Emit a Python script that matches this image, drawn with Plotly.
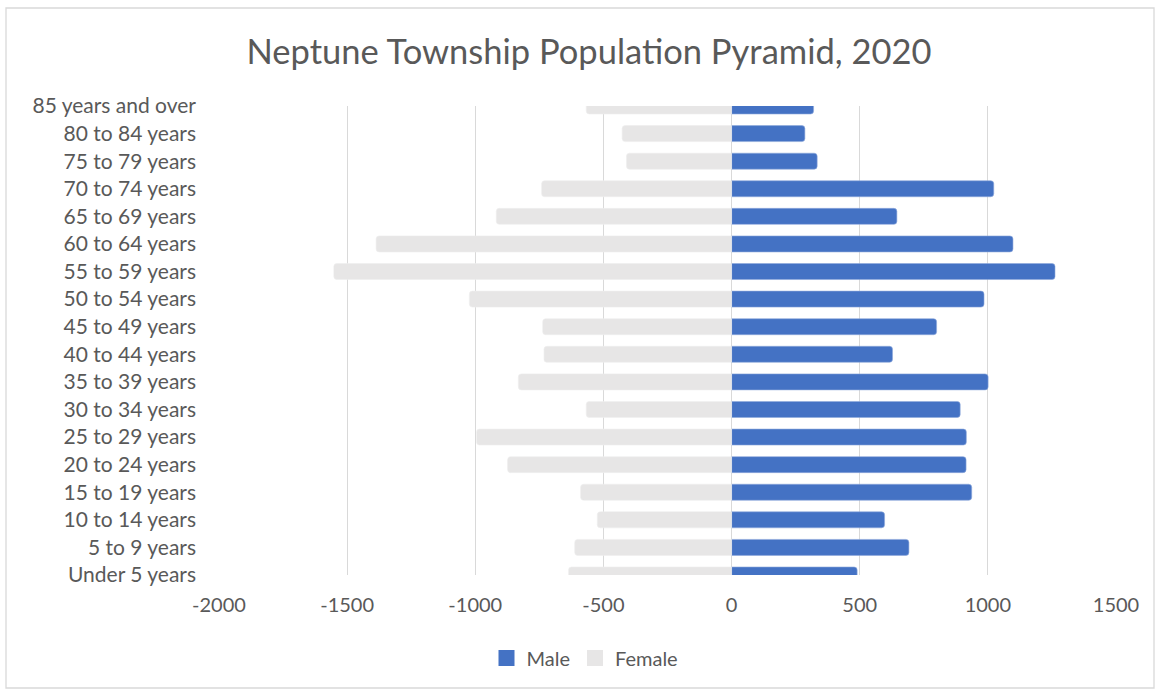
import plotly.graph_objects as go

age_groups = ["Under 5 years", "5 to 9 years", "10 to 14 years", "15 to 19 years",
              "20 to 24 years", "25 to 29 years", "30 to 34 years", "35 to 39 years",
              "40 to 44 years", "45 to 49 years", "50 to 54 years", "55 to 59 years",
              "60 to 64 years", "65 to 69 years", "70 to 74 years", "75 to 79 years",
              "80 to 84 years", "85 years and over"]
male = [490, 692, 597, 937, 915, 916, 892, 1001, 628, 800, 985, 1262, 1098, 645, 1023, 334, 286, 320]
female = [-636, -612, -524, -589, -874, -995, -567, -832, -732, -737, -1023, -1552, -1387, -918, -741, -410, -427, -567]
x_ticks = [-2000, -1500, -1000, -500, 0, 500, 1000, 1500]
x_tick_text = ["-2000", "-1500", "-1000", "-500", "0", "500", "1000", "1500"]

W, H = 1159, 692
L, R, T, B = 219, 43, 106, 117
pw, ph = W - L - R, H - T - B

font = "Lato, 'Open Sans', sans-serif"
txt = "#595959"
male_col = "#4472C4"
female_col = "#E7E6E6"

fig = go.Figure()
fig.add_trace(go.Bar(y=age_groups, x=male, orientation="h", name="Male", showlegend=False,
                     marker=dict(color=male_col, cornerradius=3,
                                 line=dict(color="#8faadc", width=0.6))))
fig.add_trace(go.Bar(y=age_groups, x=female, orientation="h", name="Female", showlegend=False,
                     marker=dict(color=female_col, cornerradius=3,
                                 line=dict(color="#eeeeee", width=0.6))))
# legend entries with square swatches
for nm, col in [("Male", male_col), ("Female", female_col)]:
    fig.add_trace(go.Scatter(x=[None], y=[None], mode="markers", name=nm,
                             marker=dict(symbol="square", size=17, color=col)))

fig.update_layout(
    width=W, height=H,
    margin=dict(l=L, r=R, t=T, b=B),
    barmode="overlay", bargap=0.42,
    paper_bgcolor="white", plot_bgcolor="white",
    font=dict(family=font, color=txt, size=20),
    title=dict(text="Neptune Township Population Pyramid, 2020",
               x=589 / W, xanchor="center", y=1 - 52 / H, yanchor="middle",
               font=dict(size=34.5, color=txt, family=font)),
    legend=dict(orientation="h", x=(585 - L) / pw, xanchor="center",
                y=(575 - 658) / ph, yanchor="middle",
                font=dict(size=20, color=txt), traceorder="normal",
                itemwidth=30, tracegroupgap=0),
    xaxis=dict(range=[-2000, 1500], tickvals=x_ticks, ticktext=x_tick_text, showgrid=True,
               gridcolor="#D9D9D9", gridwidth=1.3, zeroline=False,
               tickfont=dict(size=20, color=txt), ticks="",
               showline=False, ticklabelstandoff=16),
    yaxis=dict(type="category", categoryorder="array", categoryarray=age_groups,
               range=[0, 17], showgrid=False, zeroline=False, ticks="",
               tickfont=dict(size=21, color=txt), ticklabelstandoff=22),
    shapes=[dict(type="rect", xref="paper", yref="paper",
                 x0=(6 - L) / pw, x1=(1154 - L) / pw,
                 y0=(T + ph - 688) / ph, y1=(T + ph - 8) / ph,
                 line=dict(color="#D9D9D9", width=1.3), fillcolor="rgba(0,0,0,0)",
                 layer="below")],
)

fig.write_html("out.html", config={"displayModeBar": False},
               post_script="document.body.style.margin='0';")
